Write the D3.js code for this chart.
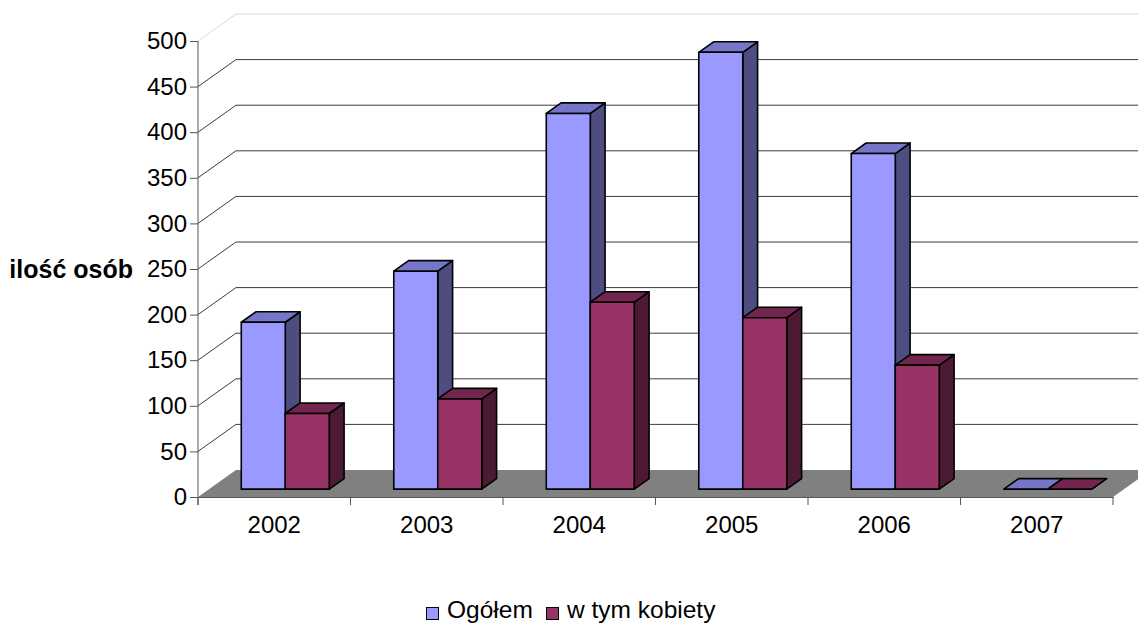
<!DOCTYPE html>
<html>
<head>
<meta charset="utf-8">
<script src="https://cdn.jsdelivr.net/npm/d3@7"></script>
<style>
  body { margin: 0; background: #fff; }
  svg { display: block; font-family: "Liberation Sans", Arial, sans-serif; }
</style>
</head>
<body>
<div id="chart"></div>
<script>
// data
var years = ["2002", "2003", "2004", "2005", "2006", "2007"];
var seriesNames = ["Ogółem", "w tym kobiety"];
var ogolem = [183, 239, 412, 479, 368, 0];
var kobiety = [83, 99, 205, 188, 136, 0];
var yTicks = [0, 50, 100, 150, 200, 250, 300, 350, 400, 450, 500];
var yTitle = "ilość osób";

var W = 1138, H = 626;

// colours: front, top, side
var colors = [
    { front: "#9999FF", top: "#7676C8", side: "#4D4D80" },
    { front: "#993366", top: "#73264D", side: "#4D1A33" }
];

// oblique depth of the plot (px)
var depthX = 38, depthY = -27;
var z0 = 0.29, z1 = 0.68;   // bar front / back depth fraction

var svg = d3.select("#chart")
    .append("svg")
    .attr("width", W)
    .attr("height", H);

var x = d3.scaleBand().domain(years).range([198, 1113]).paddingInner(0).paddingOuter(0);
var xs = d3.scaleBand().domain(seriesNames).range([0, 88]);
var barOffset = (x.bandwidth() - 88) / 2;
var y = d3.scaleLinear().domain([0, 500]).range([497, 41]);

// floor
var floor = [[198, y(0)], [1113, y(0)], [1113 + depthX, y(0) + depthY], [198 + depthX, y(0) + depthY]];
svg.append("polygon")
    .attr("points", floor.map(function(p) { return p.join(","); }).join(" "))
    .attr("fill", "#808080");

// gridlines (side wall diagonal + back wall)
yTicks.filter(function(d) { return d > 0; }).forEach(function(v) {
    var c = v === 500 ? "#d9d9d9" : "#3c3c3c";
    svg.append("path")
        .attr("d", "M198," + y(v) + "L" + (198 + depthX) + "," + (y(v) + depthY) + "L" + W + "," + (y(v) + depthY))
        .attr("fill", "none")
        .attr("stroke", c)
        .attr("stroke-width", 1);
});

// bars
var data = [ogolem, kobiety];
years.forEach(function(yr, i) {
    data.forEach(function(vals, s) {
        var col = colors[s];
        var xl = x(yr) + barOffset + xs(seriesNames[s]) + z0 * depthX;
        var xr = xl + xs.bandwidth();
        var yb = y(0) + z0 * depthY;
        var yt = y(vals[i]) + z0 * depthY;
        var ddx = (z1 - z0) * depthX, ddy = (z1 - z0) * depthY;
        var g = svg.append("g")
            .attr("stroke", "#000")
            .attr("stroke-width", 1.6)
            .attr("stroke-linejoin", "round");
        // side
        g.append("polygon")
            .attr("points", [[xr, yt], [xr + ddx, yt + ddy], [xr + ddx, yb + ddy], [xr, yb]].map(function(p) { return p.join(","); }).join(" "))
            .attr("fill", col.side);
        // top
        g.append("polygon")
            .attr("points", [[xl, yt], [xl + ddx, yt + ddy], [xr + ddx, yt + ddy], [xr, yt]].map(function(p) { return p.join(","); }).join(" "))
            .attr("fill", col.top);
        // front
        if (vals[i] > 0) {
            g.append("rect")
                .attr("x", xl)
                .attr("y", yt)
                .attr("width", xr - xl)
                .attr("height", yb - yt)
                .attr("fill", col.front);
        }
    });
});

// Y axis
var yAxis = svg.append("g")
    .attr("transform", "translate(198,0)")
    .call(d3.axisLeft(y).tickValues(yTicks).tickSize(8).tickPadding(3).tickSizeOuter(0));
yAxis.select(".domain").attr("d", "M0," + y(500) + "V" + (y(0) + 8)).attr("stroke", "#555");
yAxis.selectAll(".tick line").attr("stroke", "#555");
yAxis.selectAll("text")
    .attr("font-size", "24px")
    .attr("font-family", "Liberation Sans, Arial, sans-serif")
    .attr("fill", "#000");

// X axis
var xAxis = svg.append("g")
    .attr("transform", "translate(0," + y(0) + ")")
    .call(d3.axisBottom(x).tickSize(0).tickPadding(19));
xAxis.select(".domain").attr("stroke", "#555");
xAxis.selectAll("text")
    .attr("font-size", "24px")
    .attr("font-family", "Liberation Sans, Arial, sans-serif")
    .attr("fill", "#000");
var bounds = years.map(function(d) { return x(d); }).concat([x(years[years.length - 1]) + x.bandwidth()]);
xAxis.selectAll(".bound")
    .data(bounds)
    .enter().append("line")
    .attr("class", "bound")
    .attr("x1", function(d) { return d; })
    .attr("x2", function(d) { return d; })
    .attr("y1", 0)
    .attr("y2", 8)
    .attr("stroke", "#555");

// Y title
svg.append("text")
    .attr("x", 133)
    .attr("y", 278)
    .attr("text-anchor", "end")
    .attr("font-size", "25px")
    .attr("font-weight", "bold")
    .text(yTitle);

// legend
var legendX = [426, 546];
seriesNames.forEach(function(name, s) {
    svg.append("rect")
        .attr("x", legendX[s] + 0.5)
        .attr("y", 607.5)
        .attr("width", 12)
        .attr("height", 12)
        .attr("fill", colors[s].front)
        .attr("stroke", "#000")
        .attr("stroke-width", 1);
    svg.append("text")
        .attr("x", legendX[s] + 21)
        .attr("y", 618)
        .attr("font-size", "24.5px")
        .text(name);
});
</script>
</body>
</html>
